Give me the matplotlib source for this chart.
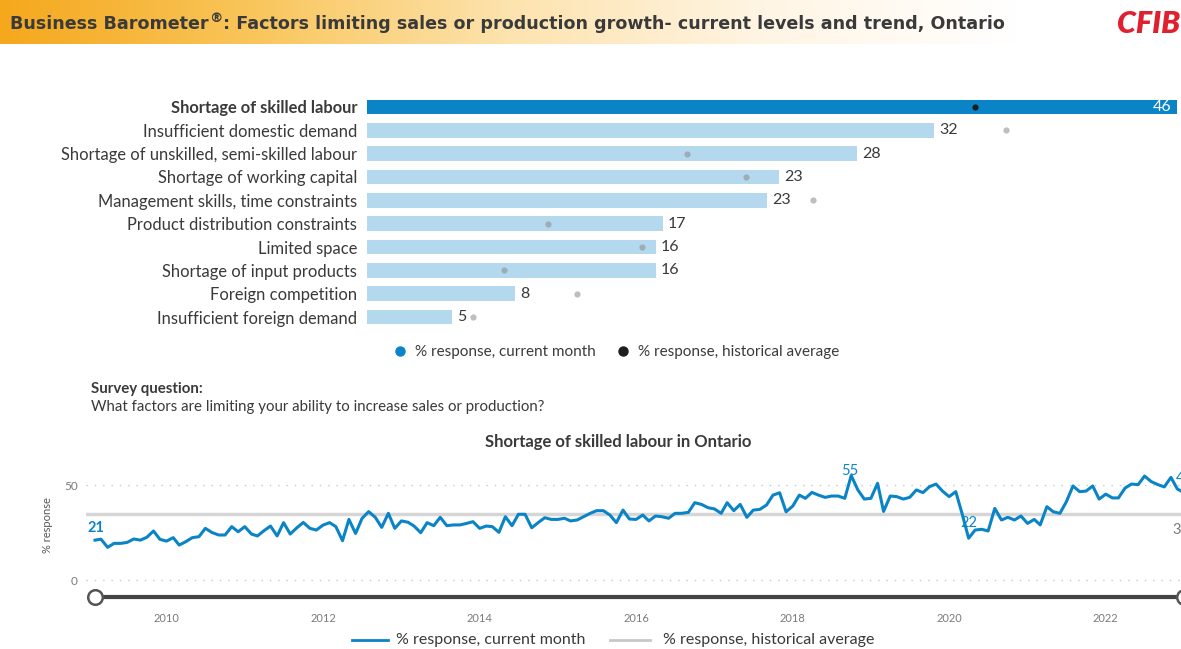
import numpy as np
import pandas as pd
import matplotlib
matplotlib.use("Agg")
import matplotlib.pyplot as plt
from matplotlib.colors import LinearSegmentedColormap
from matplotlib.lines import Line2D

plt.rcParams['font.family'] = ['Lato', 'DejaVu Sans']

# --- data ---
factors = [
    "Shortage of skilled labour",
    "Insufficient domestic demand",
    "Shortage of unskilled, semi-skilled labour",
    "Shortage of working capital",
    "Management skills, time constraints",
    "Product distribution constraints",
    "Limited space",
    "Shortage of input products",
    "Foreign competition",
    "Insufficient foreign demand",
]
current = [46, 32.2, 27.8, 23.4, 22.7, 16.8, 16.4, 16.4, 8.4, 4.8]
hist_avg = [34.5, 36.3, 18.2, 21.5, 25.3, 10.3, 15.6, 7.8, 11.9, 6.0]

# monthly % response, shortage of skilled labour, Ontario (Feb 2009 - Jan 2023)
skilled = [
    21, 21.5, 17.2, 19.3, 19.3, 19.8, 21.6, 21, 22.5, 25.8, 21.4, 20.5,
    22.3, 18.4, 20.2, 22.3, 22.8, 27.2, 25, 23.7, 23.7, 28.1, 25.4, 28.1,
    24.2, 23.2, 26, 28.4, 23.2, 30.2, 24.2, 27.5, 30.3, 27.2, 26.3, 28.9,
    30.2, 28.1, 20.7, 31.9, 24.5, 32.4, 36.0, 33.0, 27.7, 35.1, 27.2, 31.1,
    30.4, 28.4, 24.9, 30.2, 28.6, 33.0, 28.6, 29, 29, 29.8, 30.7, 27.2,
    28.4, 28.1, 25.1, 33.3, 28.6, 34.6, 34.6, 27.5, 30.2, 32.8, 31.9, 31.9,
    32.5, 31.1, 31.6, 33.3, 35.1, 36.5, 36.5, 34.2, 30.2, 36.8, 32.1, 31.9,
    34.2, 31.1, 33.7, 33.3, 32.5, 35.1, 35.1, 35.6, 40.7, 39.8, 38.1, 37.4,
    35.1, 40.7, 36.5, 39.8, 33.0, 36.8, 37.2, 39.5, 44.7, 45.9, 35.9, 38.9,
    44.7, 43, 46.1, 44.7, 43.5, 44.2, 44.2, 43, 55, 47.4, 42.6, 43,
    50.9, 36.1, 44.2, 43.9, 42.6, 43.5, 47.4, 46, 49.1, 50.5, 46.8, 43.9,
    46.5, 35.1, 22, 26.3, 26.7, 25.8, 37.7, 31.6, 33.0, 31.6, 33.7, 29.8,
    31.9, 29, 38.6, 35.9, 35.1, 41.2, 49.5, 46.5, 46.8, 49.5, 42.6, 45.2,
    43.2, 43.2, 48.4, 50.5, 50.2, 54.7, 51.8, 50.2, 49, 54, 47.9, 46,
]
months = pd.date_range("2009-02-01", periods=len(skilled), freq="MS")
year_ticks = [2010, 2012, 2014, 2016, 2018, 2020, 2022]

# --- colours ---
BLUE = "#0a84c6"
LIGHT = "#b4d9ee"
TXT = "#3a3a3a"
GREY = "#7a7a7a"

W, H = 1181, 649
fig = plt.figure(figsize=(W / 100, H / 100), dpi=100)


def fx(px):
    return px / W


def fy(py):
    return 1 - py / H


# title banner
ax_b = fig.add_axes([0, fy(44), fx(1020), 44 / H])
cmap = LinearSegmentedColormap.from_list(
    "banner", ["#f5a81c", "#f9c65c", "#fde3ae", "#fff5e4", "#ffffff"])
ax_b.imshow(np.linspace(0, 1, 512)[None, :], aspect="auto", cmap=cmap,
            extent=[0, 1, 0, 1])
ax_b.axis("off")

# title in three pieces so the ® can sit raised
renderer = fig.canvas.get_renderer()
tkw = dict(fontweight="bold", color=TXT, family="DejaVu Sans")
t1 = fig.text(fx(10), fy(29), "Business Barometer", fontsize=12.6, va="baseline", **tkw)
x1 = t1.get_window_extent(renderer).x1
t2 = fig.text(x1 / W + fx(0.5), fy(22), "®", fontsize=9.5, va="baseline", **tkw)
x2 = t2.get_window_extent(renderer).x1
fig.text(x2 / W + fx(0.5), fy(29), ": Factors limiting sales or production growth- current "
         "levels and trend, Ontario", fontsize=12.6, va="baseline", **tkw)
fig.text(fx(1180), fy(24), "CFIB", fontsize=22, fontweight="heavy", fontstyle="italic",
         color="#e0202e", ha="right", va="center")

# --- bar chart ---
ax = fig.add_axes([fx(367), fy(328.7), fx(1177 - 367), (328.7 - 95.3) / H])
ypos = np.arange(len(factors))
colors = [BLUE] + [LIGHT] * (len(factors) - 1)
ax.barh(ypos, current, height=0.62, color=colors)
dot_colors = ["#1e1e1e"] + ["#8a8a8a"] * (len(factors) - 1)
dot_alpha = [1] + [0.55] * (len(factors) - 1)
for i in ypos:
    ax.scatter(hist_avg[i], i, s=20, color=dot_colors[i], alpha=dot_alpha[i],
               zorder=3, linewidths=0)
    v = round(current[i])
    if i == 0:
        ax.text(current[i] - 0.3, i, str(v), color="white", fontsize=11.5,
                ha="right", va="center")
    else:
        ax.text(current[i] + 0.3, i, str(v), color=TXT, fontsize=11.5,
                ha="left", va="center")
ax.set_xlim(0, 46)
ax.set_ylim(len(factors) - 0.5, -0.5)
ax.set_yticks(ypos)
ax.set_yticklabels(factors, fontsize=11.9, color=TXT)
ax.get_yticklabels()[0].set_fontweight("bold")
ax.tick_params(axis="y", length=0, pad=7)
ax.set_xticks([])
for s in ax.spines.values():
    s.set_visible(False)

handles = [Line2D([], [], marker="o", ls="none", color=BLUE, markersize=6.5),
           Line2D([], [], marker="o", ls="none", color="#1e1e1e", markersize=6.5)]
fig.legend(handles, ["% response, current month", "% response, historical average"],
           loc="center", bbox_to_anchor=(fx(612), fy(352)), ncol=2, frameon=False,
           fontsize=11, handletextpad=0.0, columnspacing=0.8, labelcolor=TXT)

fig.text(fx(91), fy(389), "Survey question:", fontsize=10.8, fontweight="bold",
         color=TXT, va="center")
fig.text(fx(91), fy(407), "What factors are limiting your ability to increase sales or production?",
         fontsize=10.8, color=TXT, va="center")

# --- line chart ---
fig.text(fx(618), fy(442), "Shortage of skilled labour in Ontario", fontsize=12,
         fontweight="bold", color=TXT, ha="center", va="center")

al = fig.add_axes([fx(86), fy(600), fx(1184 - 86), (600 - 466) / H])
al.set_xlim(months[0] - pd.Timedelta(days=42), months[-1])
al.set_ylim(-10.5, 60)
for g in (0, 50):
    al.axhline(g, color="#c8c8c8", lw=1, ls=(0, (1, 5)), zorder=0)
al.axhline(hist_avg[0], color="#d6d6d6", lw=2.5, zorder=1)
al.plot(months, skilled, color=BLUE, lw=2.2, zorder=3)

lab = dict(color=BLUE, fontsize=10.5, ha="center", textcoords="offset points",
           annotation_clip=False)
al.annotate(str(round(skilled[0])), (months[0], skilled[0]), xytext=(1, 9),
            va="center", fontweight="bold", **lab)
imax = int(np.argmax(skilled))
al.annotate(str(round(skilled[imax])), (months[imax], skilled[imax]), xytext=(-1, 3.5),
            va="center", **lab)
imin = int(np.argmin(skilled[60:])) + 60
al.annotate(str(round(skilled[imin])), (months[imin], skilled[imin]), xytext=(0, 11),
            va="center", **lab)
al.annotate(str(round(skilled[-1])), (months[-1], skilled[-1]), xytext=(0, 10.5),
            va="center", **lab)
al.annotate(str(round(hist_avg[0])), (months[-1], hist_avg[0]), xytext=(-2, -11.5),
            va="center", color=GREY, fontsize=10.5, ha="center",
            textcoords="offset points", annotation_clip=False)

# date slider under the plot
al.plot([months[0], months[-1]], [-8.9, -8.9], color="#444444", lw=3, clip_on=False,
        zorder=4)
al.plot([months[0], months[-1]], [-8.9, -8.9], "o", ms=10.5, mfc="white", mec="#555555",
        mew=1.8, clip_on=False, zorder=5)

al.set_yticks([0, 50])
al.set_yticklabels(["0", "50"], fontsize=8.5, color=GREY)
al.set_xticks([pd.Timestamp(f"{y}-01-01") for y in year_ticks])
al.set_xticklabels([str(y) for y in year_ticks], fontsize=8, color=GREY)
al.tick_params(axis="y", length=0, pad=6)
al.tick_params(axis="x", length=0, pad=9)
for s in al.spines.values():
    s.set_visible(False)
fig.text(fx(48), fy(525), "% response", rotation=90, fontsize=8, color="#555555",
         ha="center", va="center")

# bottom legend
fig.add_artist(Line2D([fx(352), fx(388)], [fy(640)] * 2, transform=fig.transFigure,
                      color=BLUE, lw=2))
fig.text(fx(396), fy(640), "% response, current month", fontsize=11.5, color=TXT,
         va="center")
fig.add_artist(Line2D([fx(610), fx(650)], [fy(640)] * 2, transform=fig.transFigure,
                      color="#c8c8c8", lw=2))
fig.text(fx(663), fy(640), "% response, historical average", fontsize=11.5, color=TXT,
         va="center")

fig.savefig("out.png", dpi=100)
